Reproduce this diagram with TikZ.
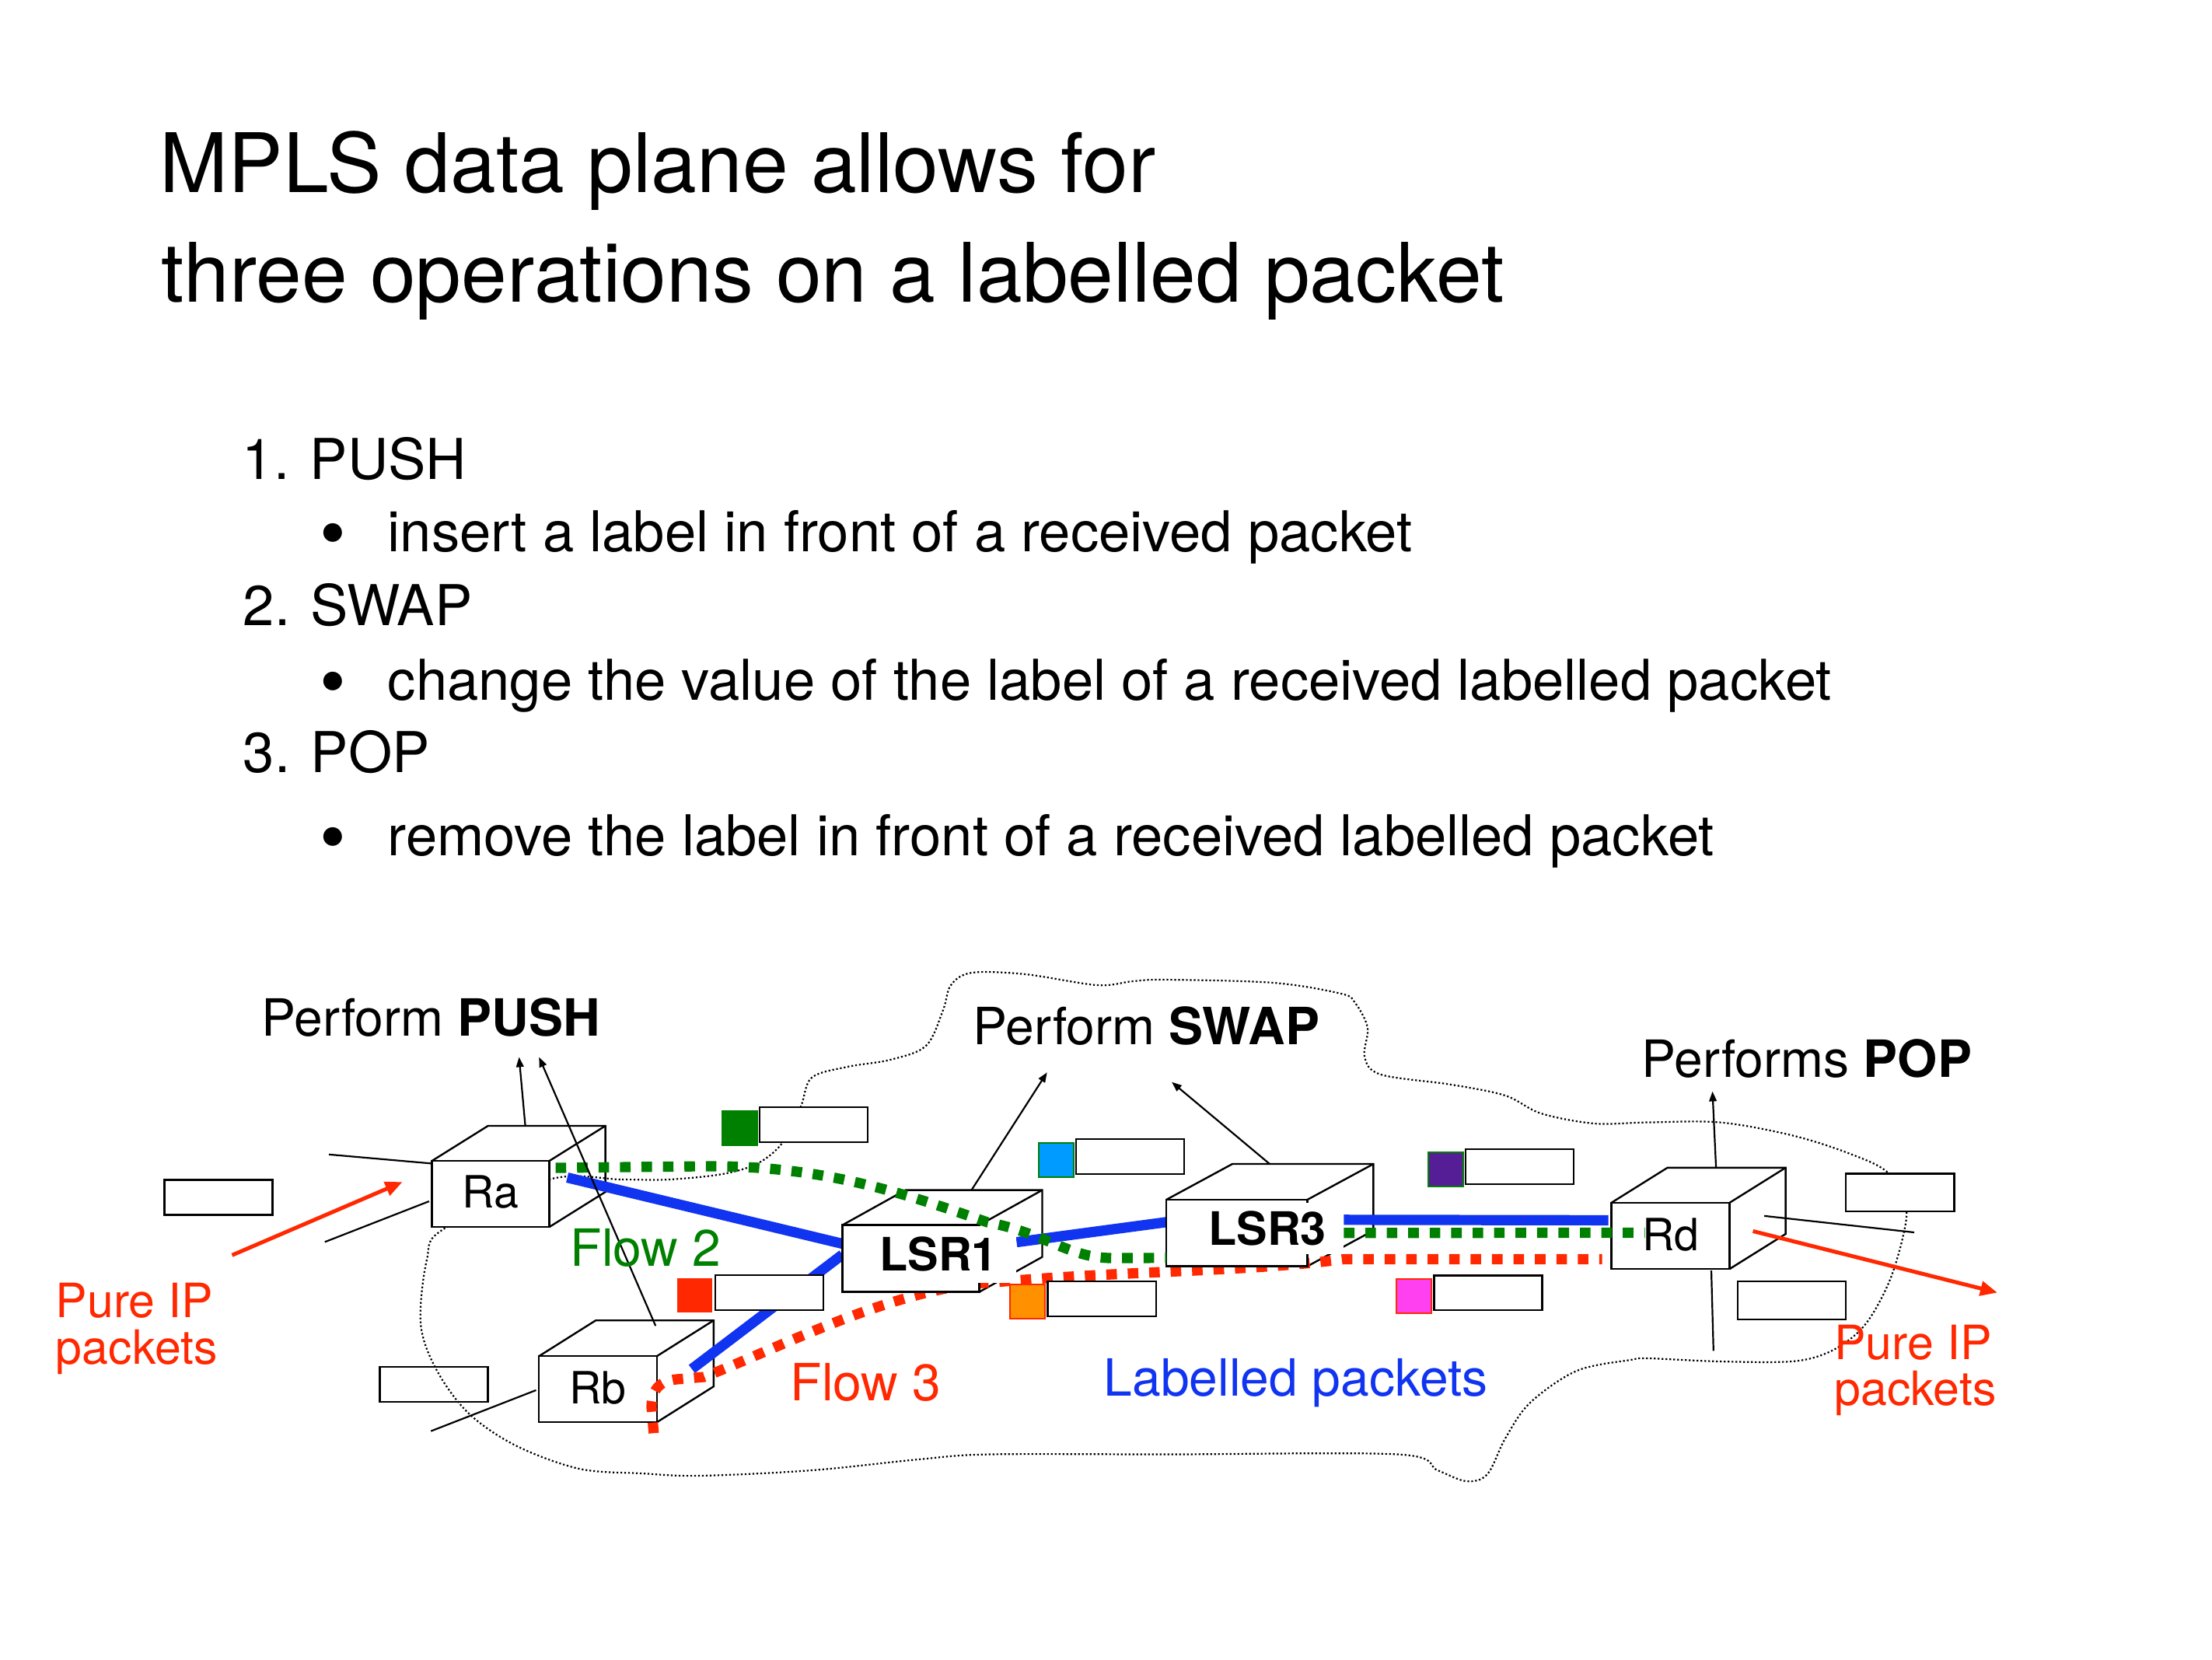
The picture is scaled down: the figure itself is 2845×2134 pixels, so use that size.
\documentclass[tikz,border=0pt]{standalone}
\usepackage{fontspec}
\setmainfont{TeX Gyre Heros}
\usetikzlibrary{arrows.meta,calc}
\definecolor{fblue}{RGB}{16,52,240}
\definecolor{fgreen}{RGB}{0,128,0}
\definecolor{fred}{RGB}{255,40,0}
\definecolor{scyan}{RGB}{0,155,255}
\definecolor{sorange}{RGB}{255,145,0}
\definecolor{spurple}{RGB}{85,30,150}
\definecolor{spink}{RGB}{255,64,240}
\pgfdeclarelayer{back}
\pgfdeclarelayer{mid}
\pgfsetlayers{back,mid,main}
\newcommand\cubeback[3]{%
  \draw[edge] (#1.north west) -- ($(#1.north west)+(#2,#3)$) -- ($(#1.north east)+(#2,#3)$) -- ($(#1.south east)+(#2,#3)$) -- (#1.south east);
  \draw[edge] (#1.north east) -- ($(#1.north east)+(#2,#3)$);}
\begin{document}
\begin{tikzpicture}[x=0.25pt,y=-0.25pt,
  title/.style={anchor=base west, inner sep=0, font=\fontsize{26.4pt}{32pt}\selectfont},
  item/.style={anchor=base west, inner sep=0, font=\fontsize{18.1pt}{22pt}\selectfont},
  bul/.style={anchor=base, inner sep=0, font=\fontsize{24pt}{24pt}\selectfont},
  lab/.style={anchor=base west, inner sep=0, font=\fontsize{16.5pt}{20pt}\selectfont},
  small/.style={anchor=base west, inner sep=0, text=fred, font=\fontsize{15.2pt}{18pt}\selectfont},
  front/.style={draw, fill=white, line width=0.6pt, inner sep=0, outer sep=0, font=\fontsize{14.3pt}{17pt}\selectfont},
  lsrlabel/.style={fill=white, inner sep=0, font=\fontsize{14.8pt}{17pt}\selectfont\bfseries},
  edge/.style={line width=0.6pt, line join=miter},
  thinline/.style={line width=0.55pt},
  arr/.style={thinline, -{Triangle[length=3.2pt,width=2.4pt]}},
  redarr/.style={fred, line width=1.25pt, -{Triangle[length=5.5pt,width=4.6pt]}},
  bflow/.style={draw=fblue, line width=3.3pt},
  gflow/.style={draw=fgreen, line width=3.3pt, dash pattern=on 3.4pt off 3.5pt},
  rflow/.style={draw=fred, line width=3.3pt, dash pattern=on 3.4pt off 3.5pt},
  cloudline/.style={line width=0.55pt, dash pattern=on 0.55pt off 0.7pt},
  lbl/.style={draw, fill=white, line width=0.6pt, inner sep=0, minimum width=34.8pt, minimum height=11.2pt},
  sq/.style={line width=0.5pt, inner sep=0, minimum width=11.2pt, minimum height=11pt}
]
\begin{pgfonlayer}{back}
\fill[white] (0,0) rectangle (2845,2134);
\end{pgfonlayer}
\useasboundingbox (0,0) rectangle (2845,2134);

% title and list
\node[title] (t1) at (205,247.5) {MPLS data plane allows for};
\node[title] (t2) at (207,388) {three operations on a labelled packet};
\node[item] (n1) at (311,616) {1. PUSH};
\node[bul] (b1) at (428,718) {\textbullet};
\node[item] (d1) at (498,709) {insert a label in front of a received packet};
\node[item] (n2) at (312,804.5) {2. SWAP};
\node[bul] (b2) at (428,909) {\textbullet};
\node[item] (d2) at (498,900) {change the value of the label of a received labelled packet};
\node[item] (n3) at (312,993.5) {3. POP};
\node[bul] (b3) at (428,1109) {\textbullet};
\node[item] (d3) at (498,1100) {remove the label in front of a received labelled packet};

% router front faces
\node[front, minimum width=37.75pt, minimum height=21.25pt] (Ra) at (631.1,1535.5) {\raisebox{1.3pt}{Ra}\hspace{3.5pt}};
\node[front, minimum width=44pt, minimum height=21.5pt] (LSR1) at (1171.5,1618.6) {};
\node[front, minimum width=45.35pt, minimum height=21.4pt] (LSR3) at (1590.7,1585.8) {};
\node[front, minimum width=38pt, minimum height=21.3pt] (Rd) at (2148.6,1589.4) {\raisebox{1pt}{Rd}\hspace{3.8pt}};

\begin{pgfonlayer}{mid}
\node[front, minimum width=37.9pt, minimum height=21.25pt] (Rb) at (769,1786.7) {\raisebox{1.2pt}{Rb}\hspace{3.5pt}};
\cubeback{Ra}{72}{-45}
\cubeback{Rb}{73}{-46}
\cubeback{LSR1}{81}{-45}
\cubeback{LSR3}{85}{-46}
\cubeback{Rd}{72}{-45}
\draw[bflow] ($(Ra.east)+(23,-21)$) -- ($(LSR1.west)+(0,-19)$);
\draw[bflow] ($(Rb.east)+(45,-26)$) -- ($(LSR1.west)+(0,-5)$);
\draw[bflow] ($(LSR1.east)+(48,-21)$) -- ($(LSR3.west)+(0,-14)$);
\draw[bflow] ($(LSR3.east)+(47,-17)$) -- ($(Rd.west)+(-4,-20)$);
\draw[rflow] ($(Rb.south east)+(-4,14)$) -- (838,1810) .. controls (838,1790) and (846,1776) .. (870,1774) -- (905,1771) .. controls (1000,1735) and (1150,1655) .. (1280,1649) .. controls (1450,1634) and (1600,1636) .. (1728,1619.5) -- ($(Rd.west)+(-12,30)$);
\end{pgfonlayer}

\begin{pgfonlayer}{back}
\draw[cloudline] plot[smooth cycle, tension=0.55] coordinates {
(706,1517) (800,1517) (860,1517) (929,1510) (975,1496) (1007,1469) (1030,1423)
(1044,1386) (1090,1372) (1145,1363) (1191,1345) (1213,1299) (1223,1267) (1250,1251)
(1319,1253) (1411,1267) (1457,1262) (1500,1260) (1638,1264) (1725,1278) (1743,1290)
(1759,1322) (1755,1359) (1776,1382) (1867,1395) (1936,1409) (1982,1432) (2051,1445)
(2120,1443.5) (2212,1443.5) (2304,1460) (2377,1483) (2428,1508) (2451,1551) (2448,1588)
(2432,1643) (2409,1689) (2386,1717) (2350,1740) (2304,1751) (2212,1751) (2120,1747)
(2097,1749) (2028,1763) (1968,1804) (1936,1850) (1913,1896) (1886,1905) (1849,1891)
(1798,1870.5) (1500,1870.5) (1273,1870.5) (1181,1877) (1044,1891) (900,1898) (826,1895)
(745,1889) (663,1859) (602,1817) (561,1761) (541,1702) (549,1620) (570,1581)};
\end{pgfonlayer}

% LSR labels
\node[lsrlabel, minimum width=50pt, minimum height=18.25pt] (LSR1t) at (1207,1613) {LSR1};
\node[lsrlabel, minimum width=49pt, minimum height=16.5pt] (LSR3t) at (1630,1580) {LSR3};

% green flow
\draw[gflow] ($(Ra.east)+(8,-33.5)$) -- (900,1500) .. controls (1050,1498) and (1150,1530) .. (1270,1572) .. controls (1345,1586) and (1375,1618) .. (1430,1618) -- ($(LSR3.west)+(0,32)$);
\draw[gflow] ($(LSR3.east)+(47,0)$) -- ($(Rd.west)+(43,-4)$);

% label boxes
\node[lbl] (bA) at (281,1540) {};
\node[lbl, fill=none] (bB) at (558,1780.5) {};
\node[lbl] (bG) at (1046.4,1446.3) {};
\node[lbl] (bR) at (989.3,1662.3) {};
\node[lbl] (bC) at (1453.4,1487.5) {};
\node[lbl] (bO) at (1417.2,1670.3) {};
\node[lbl] (bP) at (1954.6,1500.3) {};
\node[lbl] (bK) at (1914,1662.8) {};
\node[lbl, minimum height=12.2pt] (bD1) at (2443.8,1533.7) {};
\node[lbl, minimum height=12.2pt] (bD2) at (2304.4,1672.4) {};
\node[sq, fill=fgreen, draw=fgreen] (sG) at (951.4,1450.8) {};
\node[sq, fill=fred] (sR) at (893.7,1666.1) {};
\node[sq, fill=scyan, draw=fgreen] (sC) at (1358.6,1492.2) {};
\node[sq, fill=sorange, draw=fred] (sO) at (1321.5,1674.3) {};
\node[sq, fill=spurple, draw=fgreen] (sP) at (1859.3,1503.9) {};
\node[sq, fill=spink, draw=fred] (sK) at (1818.1,1666.5) {};

% free ends
\coordinate (pushA) at (667.6,1359.5);
\coordinate (pushB) at (693.3,1359.5);
\coordinate (swapA) at (1346.7,1379.2);
\coordinate (swapB) at (1507,1391.6);
\coordinate (popA) at (2202.5,1403.6);
\coordinate (rdDown) at (2203.8,1737.3);
\coordinate (rdRight) at (2462,1585);
\coordinate (inA1) at (423,1484.8);
\coordinate (inA2) at (417.8,1597.3);
\coordinate (inB) at (554.2,1840.6);
\coordinate (ipIn) at (298.5,1614.3);
\coordinate (ipOut) at (2569,1662.5);

% thin connectors
\draw[arr] ($(Ra.north west)+(120,-45)$) -- (pushA);
\draw[arr] ($(Rb.north west)+(150,-39)$) -- (pushB);
\draw[arr] ($(LSR1.north west)+(166,-45)$) -- (swapA);
\draw[arr] ($(LSR3.north west)+(133,-46)$) -- (swapB);
\draw[arr] ($(Rd.north west)+(134.5,-45)$) -- (popA);
\draw[thinline] ($(Rd.south)+(52.4,2)$) -- (rdDown);
\draw[thinline] ($(Rd.east)+(44.5,-25.6)$) -- (rdRight);
\draw[thinline] (inA1) -- ($(Ra.north west)+(-1.4,3.3)$);
\draw[thinline] (inA2) -- ($(Ra.west)+(-3.7,9.5)$);
\draw[thinline] (inB) -- ($(Rb.west)+(-3.7,1.2)$);
\draw[redarr] (ipIn) -- ($(Ra.west)+(-38,-15.3)$);
\draw[redarr] ($(Rd.east)+(30,-6)$) -- (ipOut);

% texts
\node[lab] (push) at (336,1332) {Perform \textbf{PUSH}};
\node[lab] (swap) at (1251,1343.9) {Perform \textbf{SWAP}};
\node[lab] (pop) at (2111,1385.2) {Performs \textbf{POP}};
\node[lab, text=fgreen] (f2) at (733,1628.5) {Flow 2};
\node[lab, text=fred] (f3) at (1016,1801.6) {Flow 3};
\node[lab, text=fblue] (lp) at (1419,1795.6) {Labelled packets};
\node[small] (pl1) at (71,1694.6) {Pure IP};
\node[small] (pl2) at (71,1754.3) {packets};
\node[small] (pr1) at (2358.6,1748.8) {Pure IP};
\node[small] (pr2) at (2358.6,1807.6) {packets};
\end{tikzpicture}
\end{document}
